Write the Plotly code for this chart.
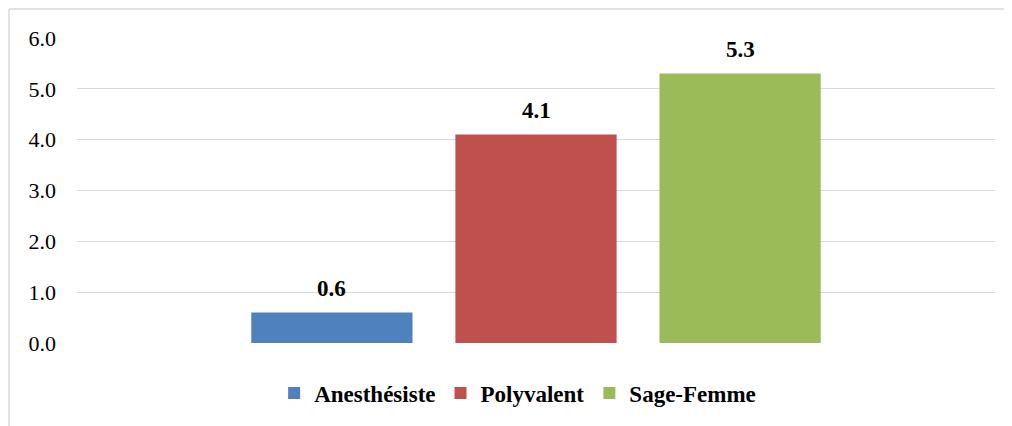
import plotly.graph_objects as go

series = ["Anesthésiste", "Polyvalent", "Sage-Femme"]
values = [0.6, 4.1, 5.3]
colors = ["#4F81BD", "#C0504D", "#9BBB59"]
y_ticks = [0, 1, 2, 3, 4, 5, 6]

FONT = "Liberation Serif, Times New Roman, serif"
BARGAP = 0.333
GROUPGAP = 0.21

fig = go.Figure()
for name, val, col in zip(series, values, colors):
    fig.add_trace(go.Bar(
        name=name, x=[0], y=[val],
        marker=dict(color=col, line=dict(width=0)),
        hoverinfo="name+y",
    ))

# data labels placed above each grouped bar
slot = (1 - BARGAP) / len(series)
annotations = []
for i, val in enumerate(values):
    annotations.append(dict(
        x=-(1 - BARGAP) / 2 + slot * (i + 0.5), y=val, xref="x", yref="y",
        text=f"{val:.1f}", showarrow=False, yanchor="bottom", yshift=10,
        font=dict(family=FONT, size=23, color="black", weight="bold"),
    ))

fig.update_layout(
    width=1012, height=426,
    barmode="group", bargap=BARGAP, bargroupgap=GROUPGAP,
    plot_bgcolor="white", paper_bgcolor="white",
    margin=dict(l=69, r=25, t=30, b=91),
    font=dict(family=FONT, size=22, color="black"),
    showlegend=True,
    legend=dict(orientation="h", x=0.48, xanchor="center", y=-0.164, yanchor="middle",
                font=dict(family=FONT, size=23, color="black", weight="bold"),
                itemclick=False),
    xaxis=dict(range=[-0.5, 0.5], showticklabels=False, showgrid=False, zeroline=False, showline=False),
    yaxis=dict(range=[0, 6], tickvals=y_ticks, tickformat=".1f",
               showgrid=True, gridcolor="#d9d9d9", gridwidth=1.2,
               zeroline=False, showline=False, ticklabelstandoff=20,
               tickfont=dict(family=FONT, size=22, color="black")),
    annotations=annotations,
    shapes=[
        dict(type="line", xref="paper", yref="paper", x0=-68 / 918, x1=1.05, y0=1 + 29 / 305, y1=1 + 29 / 305,
             line=dict(color="#d9d9d9", width=1.5)),
        dict(type="line", xref="paper", yref="paper", x0=-68 / 918, x1=-68 / 918, y0=1 + 29 / 305, y1=-0.4,
             line=dict(color="#d9d9d9", width=1.5)),
    ],
)

fig.write_html("out.html")
